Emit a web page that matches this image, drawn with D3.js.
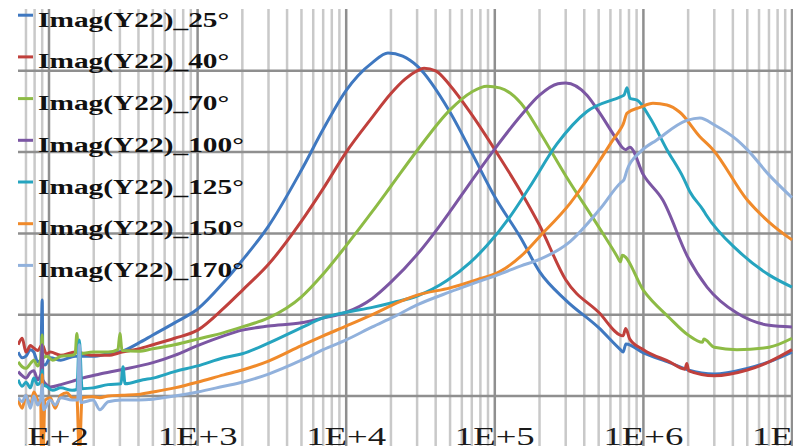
<!DOCTYPE html>
<html>
<head>
<meta charset="utf-8">
<script src="https://cdn.jsdelivr.net/npm/d3@7"></script>
<style>
  body { margin: 0; background: #fff; }
  svg { display: block; }
</style>
</head>
<body>
<svg width="793" height="446"></svg>
<script>
// frequency ticks (log axis) and labels
const decadeTicks = [1e2, 1e3, 1e4, 1e5, 1e6, 1e7];
const tickLabels = ["1E+2", "1E+3", "1E+4", "1E+5", "1E+6", "1E+7"];
const gridValues = [0, 1, 2, 3, 4];

const seriesNames = ["Imag(Y22)_25°", "Imag(Y22)_40°", "Imag(Y22)_70°", "Imag(Y22)_100°",
  "Imag(Y22)_125°", "Imag(Y22)_150°", "Imag(Y22)_170°"];
const seriesColors = ["#3f78c0", "#c0403c", "#8dbb45", "#7b56a3", "#25a4bf", "#f08a2a", "#91b1dc"];

// [frequency Hz, Imag(Y22)]
const y25 = [[62,0.54],[66,0.47],[70,0.49],[75,0.57],[79,0.54],[84,0.42],[88,0.45],[90,1.18],[91,0.40],[94,0.38],[102,0.47],
  [120,0.44],[150,0.49],[198,0.49],[250,0.52],[310,0.55],[400,0.65],[500,0.75],[700,0.90],[1000,1.07],[1500,1.40],
  [2000,1.67],[3000,2.09],[5000,2.78],[7000,3.28],[1e4,3.76],[1.2e4,3.94],[1.5e4,4.10],[1.91e4,4.22],[2.4e4,4.18],
  [3e4,4.06],[5e4,3.49],[7e4,2.99],[1e5,2.45],[1.5e5,1.94],[2e5,1.53],[3e5,1.18],[5e5,0.84],[7e5,0.57],[7.3e5,0.54],
  [7.63e5,0.64],[1e6,0.53],[1.5e6,0.41],[2e6,0.32],[3e6,0.27],[5e6,0.34],[7e6,0.42],[1e7,0.54]];
const y40 = [[62,0.63],[66,0.71],[70,0.54],[75,0.62],[79,0.59],[84,0.56],[90,0.63],[96,0.52],[102,0.54],[120,0.50],
  [150,0.54],[198,0.50],[250,0.50],[310,0.54],[400,0.58],[500,0.63],[700,0.71],[1000,0.81],[1500,1.08],[2000,1.30],
  [3000,1.62],[5000,2.15],[7000,2.55],[1e4,3.00],[1.5e4,3.43],[2e4,3.72],[2.5e4,3.90],[3e4,4.00],[3.34e4,4.03],
  [4e4,4.00],[5e4,3.82],[7e4,3.46],[1e5,3.03],[1.5e5,2.51],[2e5,2.10],[3e5,1.43],[5e5,1.03],[7.3e5,0.74],
  [7.6e5,0.83],[8.1e5,0.70],[1e6,0.57],[1.5e6,0.42],[1.9e6,0.33],[1.96e6,0.40],[2.02e6,0.31],[3e6,0.25],[5e6,0.32],
  [7e6,0.42],[1e7,0.57]];
const y70 = [[62,0.42],[66,0.36],[70,0.34],[75,0.40],[79,0.44],[84,0.37],[88,0.45],[90,0.75],[91,0.47],[96,0.49],
  [106,0.44],[120,0.49],[143,0.50],[150,0.52],[154,0.77],[158,0.52],[198,0.54],[250,0.54],[291,0.57],[300,0.77],
  [310,0.56],[400,0.55],[500,0.58],[700,0.63],[1000,0.70],[1500,0.78],[2000,0.85],[3000,0.96],[5000,1.22],
  [7000,1.50],[1e4,1.85],[1.5e4,2.27],[2e4,2.58],[3e4,3.02],[5e4,3.52],[7e4,3.74],[8.85e4,3.81],[1.08e5,3.79],
  [1.5e5,3.60],[2e5,3.25],[3e5,2.71],[5e5,2.08],[6.64e5,1.72],[7e5,1.65],[7.2e5,1.73],[1e6,1.30],[1.5e6,0.96],
  [2e6,0.75],[2.5e6,0.66],[2.55e6,0.70],[3e6,0.60],[4.26e6,0.57],[7e6,0.60],[1e7,0.71]];
const y100 = [[62,0.30],[66,0.25],[70,0.22],[75,0.29],[79,0.31],[84,0.20],[88,0.27],[90,0.63],[91,0.20],[96,0.14],
  [102,0.11],[120,0.14],[143,0.18],[167,0.22],[220,0.27],[300,0.32],[500,0.41],[700,0.50],[1000,0.62],[1500,0.74],
  [2000,0.81],[3000,0.86],[5000,0.90],[7000,0.96],[1e4,1.03],[1.5e4,1.20],[2e4,1.40],[3e4,1.74],[4.28e4,2.10],
  [5e4,2.27],[7e4,2.65],[1e5,3.04],[1.5e5,3.45],[2e5,3.70],[2.66e5,3.84],[3e5,3.85],[4.17e5,3.70],[5e5,3.50],
  [6.64e5,3.15],[7.18e5,3.06],[7.6e5,3.03],[8.1e5,3.06],[1e6,2.72],[1.35e6,2.41],[2e6,1.70],[2.68e6,1.34],
  [4.26e6,1.02],[7e6,0.87],[1e7,0.85]];
const y125 = [[62,0.20],[66,0.12],[70,0.17],[75,0.10],[79,0.22],[84,0.14],[88,0.18],[90,0.32],[91,0.14],[96,0.12],
  [106,0.07],[120,0.10],[143,0.07],[154,0.08],[160,0.69],[167,0.09],[198,0.10],[250,0.14],[305,0.15],[315,0.36],
  [325,0.15],[430,0.20],[500,0.22],[700,0.30],[1000,0.37],[1500,0.47],[2000,0.52],[3000,0.65],[5000,0.84],
  [7000,0.96],[1e4,1.03],[1.5e4,1.09],[2.07e4,1.15],[3e4,1.23],[4.77e4,1.42],[6.81e4,1.64],[8.85e4,1.85],
  [1.26e5,2.20],[1.73e5,2.58],[2.62e5,3.10],[4.17e5,3.50],[7e5,3.68],[7.4e5,3.70],[7.76e5,3.79],
  [8.13e5,3.66],[9.06e5,3.64],[1.11e6,3.42],[1.44e6,3.03],[1.85e6,2.69],[2.06e6,2.51],[2.52e6,2.29],[2.64e6,2.23],
  [4.26e6,1.80],[7e6,1.49],[1e7,1.34]];
const y150 = [[62,-0.05],[66,-0.15],[70,0.01],[75,-0.11],[79,0.05],[84,-0.05],[88,-0.10],[89,-0.75],[90,0.26],
  [91,-0.75],[94,-0.05],[102,-0.02],[110,-0.15],[120,0.01],[132,0.04],[143,-0.02],[154,-0.02],[160,-0.75],
  [167,-0.02],[198,-0.01],[220,-0.02],[250,0.00],[310,0.01],[400,0.02],[500,0.05],[700,0.10],[1000,0.17],
  [1500,0.26],[2000,0.32],[3000,0.43],[5000,0.62],[7000,0.74],[1e4,0.86],[1.5e4,1.00],[2.3e4,1.16],[3e4,1.24],
  [5e4,1.33],[7.59e4,1.43],[1.08e5,1.53],[1.5e5,1.72],[2e5,1.96],[3.21e5,2.37],[5.1e5,2.90],[6.24e5,3.15],
  [7e5,3.28],[7.3e5,3.34],[7.76e5,3.48],[9.5e5,3.55],[1.16e6,3.60],[1.44e6,3.58],[1.76e6,3.49],[2.4e6,3.19],
  [2.94e6,3.03],[5e6,2.41],[7e6,2.14],[1e7,1.92]];
const y170 = [[62,-0.02],[66,-0.07],[70,0.01],[75,-0.15],[79,0.00],[84,-0.11],[88,-0.03],[90,0.14],[92,-0.17],
  [102,-0.05],[110,-0.11],[120,-0.02],[143,-0.05],[156,-0.05],[160,0.63],[164,-0.08],[198,-0.05],[220,-0.17],
  [250,-0.07],[310,-0.05],[400,-0.05],[500,-0.04],[700,0.00],[1000,0.05],[1500,0.12],[2000,0.17],[3000,0.27],
  [5000,0.44],[7000,0.57],[1e4,0.69],[1.5e4,0.85],[2.07e4,0.97],[3e4,1.12],[5e4,1.28],[7.59e4,1.40],[1.08e5,1.50],
  [1.5e5,1.60],[2e5,1.68],[3.21e5,1.90],[5.1e5,2.30],[7e5,2.62],[7.4e5,2.66],[7.76e5,2.78],[9.5e5,3.00],
  [1.23e6,3.15],[1.96e6,3.39],[2.4e6,3.42],[3.03e6,3.33],[4.26e6,3.15],[5e6,3.03],[7e6,2.72],[1e7,2.44]];

const allSeries = [y25, y40, y70, y100, y125, y150, y170];

const svg = d3.select("svg");
const plotLeft = 18, plotRight = 793, plotTop = 9, plotBottom = 446;
const stretch = 1.47; // the reference text is drawn wide

const x = d3.scaleLog().domain([100, 1e7]).range([49, 792]);
const y = d3.scaleLinear().domain([0, 4]).range([396, 70.8]);

svg.append("clipPath").attr("id", "plot")
  .append("rect").attr("x", plotLeft).attr("y", plotTop)
  .attr("width", plotRight - plotLeft).attr("height", plotBottom - plotTop);
svg.append("clipPath").attr("id", "labels")
  .append("rect").attr("x", 25).attr("y", 0).attr("width", 793).attr("height", 446);

// minor grid lines, 2..9 inside each decade
const minor = [];
for (let d = 10; d <= 1e6; d *= 10) {
  for (let k = 2; k <= 9; k++) {
    if (x(k * d) >= plotLeft && x(k * d) <= plotRight) minor.push(k * d);
  }
}

const grid = svg.append("g").attr("clip-path", "url(#plot)");
grid.selectAll("line.minor").data(minor).join("line")
  .attr("class", "minor")
  .attr("x1", d => x(d)).attr("x2", d => x(d))
  .attr("y1", plotTop).attr("y2", plotBottom)
  .attr("stroke", "#c9c9c9").attr("stroke-width", 2.5);
grid.selectAll("line.major").data(decadeTicks).join("line")
  .attr("class", "major")
  .attr("x1", d => x(d)).attr("x2", d => x(d))
  .attr("y1", plotTop).attr("y2", plotBottom)
  .attr("stroke", "#8f8f8f").attr("stroke-width", 2.5);
grid.selectAll("line.hor").data(gridValues).join("line")
  .attr("class", "hor")
  .attr("x1", plotLeft).attr("x2", plotRight)
  .attr("y1", d => y(d)).attr("y2", d => y(d))
  .attr("stroke", "#8f8f8f").attr("stroke-width", 2.5);

// curves
const line = d3.line().x(d => x(d[0])).y(d => y(d[1])).curve(d3.curveMonotoneX);
svg.append("g").attr("clip-path", "url(#plot)")
  .selectAll("path").data(allSeries).join("path")
  .attr("d", line)
  .attr("fill", "none")
  .attr("stroke", (d, i) => seriesColors[i])
  .attr("stroke-width", 3)
  .attr("stroke-linejoin", "round");

// x axis labels (left edge of the picture is cut, like the reference)
const xAxis = d3.axisBottom(x).tickValues(decadeTicks)
  .tickFormat((d, i) => tickLabels[i]).tickSize(0);
const axisG = svg.append("g").attr("clip-path", "url(#labels)")
  .append("g")
  .attr("transform", "translate(0,445)")
  .call(xAxis);
axisG.select(".domain").remove();
axisG.selectAll("text")
  .attr("y", 0).attr("dy", null)
  .attr("transform", `scale(${stretch},1)`)
  .attr("font-family", "'Liberation Serif', 'Times New Roman', serif")
  .attr("font-size", 25)
  .attr("fill", "#1a1a1a");
axisG.selectAll(".tick").attr("transform", d => `translate(${x(d)},0)`);

// legend
const legend = svg.append("g").selectAll("g").data(seriesNames).join("g")
  .attr("transform", (d, i) => `translate(0,${26.7 + 41.7 * i})`);
legend.append("line")
  .attr("x1", 18).attr("x2", 33).attr("y1", -11.5).attr("y2", -11.5)
  .attr("stroke", (d, i) => seriesColors[i]).attr("stroke-width", 3);
legend.append("text")
  .attr("transform", `translate(38,0) scale(${stretch},1)`)
  .attr("font-family", "'Liberation Serif', 'Times New Roman', serif")
  .attr("font-weight", "bold")
  .attr("font-size", 20)
  .attr("fill", "#111")
  .text(d => d);
</script>
</body>
</html>
